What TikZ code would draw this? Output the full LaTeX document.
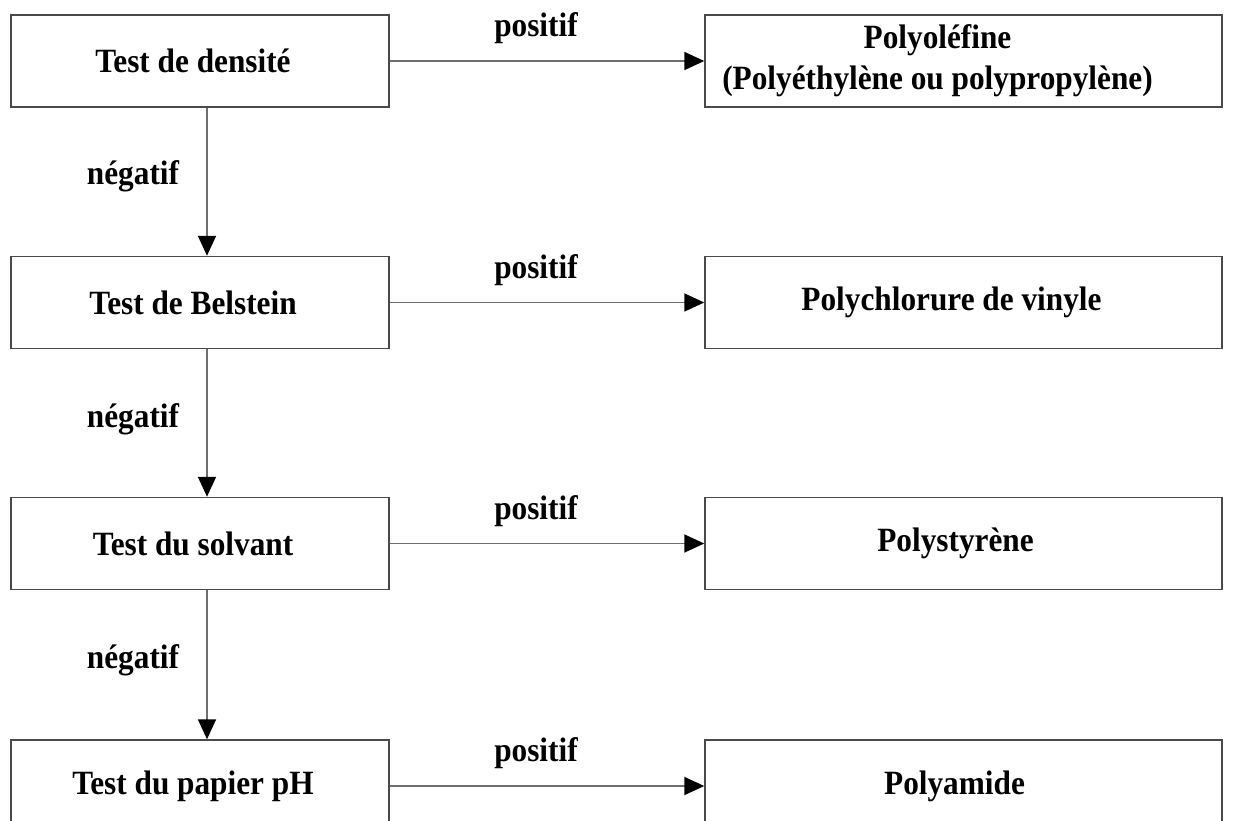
\documentclass[tikz,border=0pt]{standalone}
\usepackage{fontspec}
\setmainfont[FakeStretch=0.92]{Liberation Serif}
\usetikzlibrary{arrows.meta}
\definecolor{boxgray}{HTML}{4A4A4A}
\definecolor{linegray}{HTML}{6E6E6E}
\begin{document}
\begin{tikzpicture}[x=1pt,y=-1pt,
  txt/.style={font=\fontsize{34}{41}\selectfont\bfseries},
  box/.style={txt, draw=boxgray, line width=1.5pt, minimum width=378pt, minimum height=92pt, inner sep=0pt},
  rbox/.style={box, minimum width=517pt},
  conn/.style={draw=linegray, line width=1.8pt, -{Triangle[length=20pt,width=18pt,color=black]}},
  lbl/.style={txt, inner sep=0pt, anchor=base}]
\clip (0,0) rectangle (1233,821);
\useasboundingbox (0,0) rectangle (1233,821);

\node[box] (d1) at (200,61) {Test de densité\hspace*{14pt}};
\node[box] (d2) at (200,302.5) {Test de Belstein\hspace*{14pt}};
\node[box] (d3) at (200,543.5) {Test du solvant\hspace*{14pt}};
\node[box] (d4) at (200,786) {Test du papier pH\hspace*{14pt}};

\node[rbox] (r1) at (963.5,61) {\begin{tabular}{@{}c@{}}Polyoléfine\\(Polyéthylène ou polypropylène)\end{tabular}\hspace*{52pt}};
\node[rbox] (r2) at (963.5,302.5) {Polychlorure de vinyle\hspace*{24pt}};
\node[rbox] (r3) at (963.5,543.5) {Polystyrène\hspace*{16pt}};
\node[rbox] (r4) at (963.5,786) {Polyamide\hspace*{18pt}};

\draw[conn] (d1.east) -- (r1.west);
\draw[conn] (d2.east) -- (r2.west);
\draw[conn] (d3.east) -- (r3.west);
\draw[conn] (d4.east) -- (r4.west);

\draw[conn] ([xshift=7pt]d1.south) -- ([xshift=7pt]d2.north);
\draw[conn] ([xshift=7pt]d2.south) -- ([xshift=7pt]d3.north);
\draw[conn] ([xshift=7pt]d3.south) -- ([xshift=7pt]d4.north);

\node[lbl] (p1) at (536,37) {positif};
\node[lbl] (p2) at (536,278) {positif};
\node[lbl] (p3) at (536,519) {positif};
\node[lbl] (p4) at (536,761) {positif};

\node[lbl] (n1) at (133,185) {négatif};
\node[lbl] (n2) at (133,427) {négatif};
\node[lbl] (n3) at (133,668) {négatif};
\end{tikzpicture}
\end{document}
